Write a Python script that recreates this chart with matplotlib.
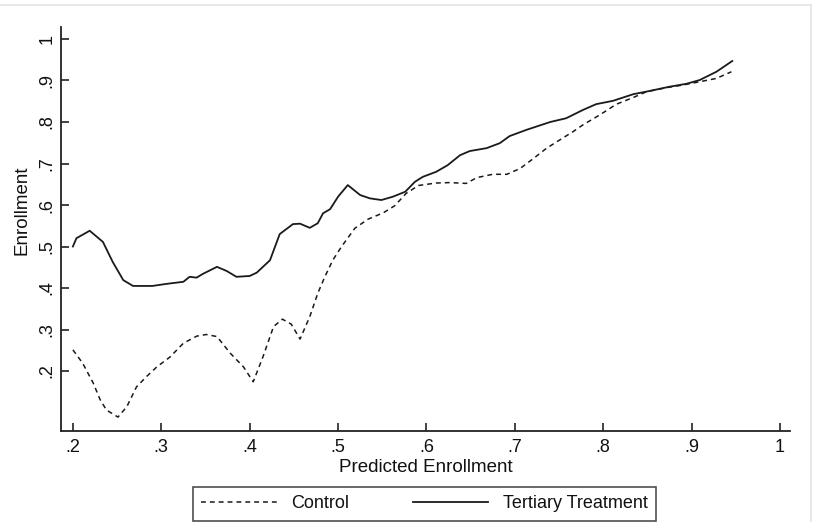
import matplotlib
matplotlib.use("Agg")
import matplotlib.pyplot as plt
from matplotlib.lines import Line2D
from matplotlib.ticker import FixedLocator

plt.rcParams['font.family'] = ['Liberation Sans', 'DejaVu Sans']

# ---- data ----
treat_x = [0.200, 0.204, 0.219, 0.234, 0.245, 0.257, 0.268, 0.290, 0.306, 0.325, 0.332,
           0.340, 0.347, 0.363, 0.374, 0.385, 0.400, 0.408, 0.415, 0.423, 0.434, 0.449,
           0.457, 0.468, 0.477, 0.483, 0.491, 0.500, 0.511, 0.525, 0.536, 0.549, 0.562,
           0.576, 0.587, 0.596, 0.611, 0.624, 0.638, 0.649, 0.668, 0.683, 0.694, 0.713,
           0.740, 0.758, 0.777, 0.792, 0.811, 0.834, 0.853, 0.875, 0.894, 0.909, 0.928, 0.946]
treat_y = [0.500, 0.520, 0.538, 0.511, 0.463, 0.419, 0.405, 0.405, 0.410, 0.415, 0.427,
           0.425, 0.434, 0.451, 0.441, 0.427, 0.429, 0.437, 0.451, 0.467, 0.530, 0.554,
           0.555, 0.545, 0.556, 0.580, 0.590, 0.620, 0.648, 0.624, 0.616, 0.612, 0.620,
           0.632, 0.656, 0.668, 0.680, 0.696, 0.720, 0.730, 0.737, 0.749, 0.766, 0.781,
           0.800, 0.809, 0.829, 0.843, 0.851, 0.867, 0.875, 0.885, 0.892, 0.901, 0.921, 0.947]

ctrl_x = [0.200, 0.211, 0.223, 0.231, 0.238, 0.251, 0.261, 0.272, 0.283, 0.295, 0.310,
          0.325, 0.340, 0.351, 0.363, 0.378, 0.393, 0.404, 0.415, 0.427, 0.437, 0.447,
          0.457, 0.468, 0.477, 0.485, 0.494, 0.504, 0.519, 0.534, 0.551, 0.564, 0.577,
          0.591, 0.611, 0.626, 0.645, 0.657, 0.675, 0.691, 0.706, 0.721, 0.736, 0.751,
          0.766, 0.777, 0.796, 0.815, 0.834, 0.849, 0.872, 0.890, 0.909, 0.928, 0.945]
ctrl_y = [0.251, 0.219, 0.171, 0.130, 0.106, 0.089, 0.114, 0.162, 0.186, 0.210, 0.234,
          0.267, 0.284, 0.288, 0.283, 0.243, 0.210, 0.174, 0.234, 0.307, 0.325, 0.313,
          0.277, 0.331, 0.387, 0.427, 0.467, 0.500, 0.544, 0.566, 0.581, 0.598, 0.628,
          0.647, 0.653, 0.654, 0.652, 0.666, 0.674, 0.674, 0.688, 0.712, 0.737, 0.757,
          0.777, 0.793, 0.817, 0.843, 0.859, 0.873, 0.883, 0.889, 0.897, 0.905, 0.921]

x_ticks = [0.2, 0.3, 0.4, 0.5, 0.6, 0.7, 0.8, 0.9, 1.0]
x_ticklabels = ['.2', '.3', '.4', '.5', '.6', '.7', '.8', '.9', '1']
y_ticks = [0.2, 0.3, 0.4, 0.5, 0.6, 0.7, 0.8, 0.9, 1.0]
y_ticklabels = ['.2', '.3', '.4', '.5', '.6', '.7', '.8', '.9', '1']
series_labels = ['Control', 'Tertiary Treatment']

# ---- figure ----
W, H = 819, 522
fig = plt.figure(figsize=(W / 100, H / 100), dpi=100)
fig.patch.set_facecolor('white')

ax_l, ax_r, ax_b, ax_t = 60.7, 790, 430.7, 27
ax = fig.add_axes([ax_l / W, 1 - ax_b / H, (ax_r - ax_l) / W, (ax_b - ax_t) / H])

ax.plot(ctrl_x, ctrl_y, color='#1a1a1a', lw=1.1, ls=(0, (3.2, 2.6)), label=series_labels[0])
ax.plot(treat_x, treat_y, color='#1a1a1a', lw=1.3, ls='-', label=series_labels[1])

ax.set_xlim(0.1862, 1.0113)
ax.set_ylim(0.0562, 1.0289)

for s in ['top', 'right']:
    ax.spines[s].set_visible(False)
for s in ['left', 'bottom']:
    ax.spines[s].set_linewidth(1.3)
    ax.spines[s].set_color('#222222')

ax.xaxis.set_major_locator(FixedLocator(x_ticks))
ax.set_xticklabels(x_ticklabels)
ax.yaxis.set_major_locator(FixedLocator(y_ticks))
ax.set_yticklabels(y_ticklabels, rotation=90, va='center')
ax.tick_params(axis='both', direction='in', length=6, width=1.2, color='#222222',
               labelsize=13, labelcolor='#111111')
ax.tick_params(axis='x', pad=6)
ax.tick_params(axis='y', pad=4)

ax.set_xlabel('Predicted Enrollment', fontsize=13.5, color='#111111', labelpad=2)
ax.set_ylabel('Enrollment', fontsize=13.5, color='#111111')
ax.yaxis.set_label_coords((31 - ax_l) / (ax_r - ax_l), (ax_b - 210) / (ax_b - ax_t))

leg = fig.legend(loc='center', bbox_to_anchor=(424.5 / W, 1 - 504 / H), ncol=2,
                 fontsize=13, frameon=True, fancybox=False, handlelength=4.2,
                 handletextpad=0.8, columnspacing=3.5, borderpad=0.45,
                 borderaxespad=0)
leg.get_frame().set_edgecolor('#222222')
leg.get_frame().set_linewidth(1.2)
for t in leg.get_texts():
    t.set_color('#111111')

# light grey outer border (top and right)
fig.add_artist(Line2D([0, 811 / W], [1 - 5 / H, 1 - 5 / H], transform=fig.transFigure,
                      color='#e4e4e4', lw=1.2))
fig.add_artist(Line2D([811 / W, 811 / W], [0, 1 - 5 / H], transform=fig.transFigure,
                      color='#e4e4e4', lw=1.2))

fig.savefig('out.png', dpi=100, facecolor='white')
